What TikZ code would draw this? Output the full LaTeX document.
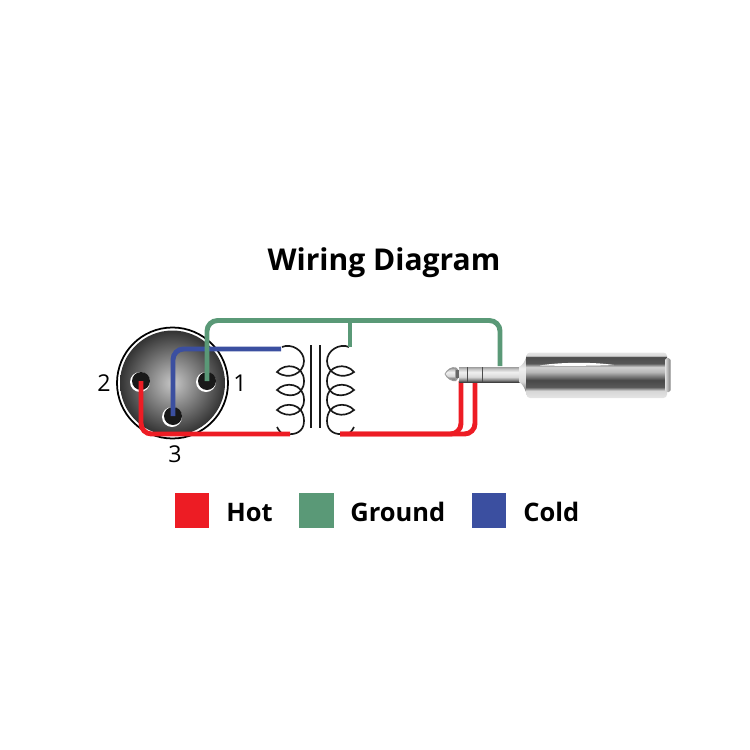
\documentclass[tikz,border=0pt]{standalone}
\usepackage{fontspec}
\setmainfont{Open Sans}
\definecolor{hotred}{HTML}{ED1C24}
\definecolor{gndgreen}{HTML}{5A9977}
\definecolor{coldblue}{HTML}{3B4FA0}
\pgfdeclareverticalshading{barrelshade}{100bp}{
    color(0bp)=(black!10); color(25bp)=(black!10); color(33bp)=(black!16); color(37bp)=(black!65);
    color(44.6bp)=(black!72); color(53.6bp)=(black!28); color(59bp)=(black!18); color(63bp)=(black!66);
    color(70bp)=(black!70); color(71.5bp)=(black!15); color(75bp)=(black!10); color(100bp)=(black!10)}
\pgfdeclareverticalshading{plugshade}{100bp}{
    color(0bp)=(black!75); color(25bp)=(black!75); color(31bp)=(black!50); color(42bp)=(black!15);
    color(58bp)=(black!6); color(68bp)=(black!22); color(75bp)=(black!38); color(100bp)=(black!38)}
\tikzset{
    wire/.style={line width=2.8pt, rounded corners=6pt},
    keybox/.style={minimum size=19.5pt, inner sep=0pt, draw=none},
    keytext/.style={font=\bfseries\fontsize{14.5}{16}\selectfont, anchor=base west, inner sep=0pt},
    pinlabel/.style={font=\fontsize{13.2}{15}\selectfont, inner sep=0pt},
    coilline/.style={line width=0.95pt, black!90}
}
\newcommand{\coilpath}{
    \draw[coilline] (5,0) .. controls (14,-4) and (27,3) .. (27,14)
        .. controls (27,26) and (12,34) .. (0,25)
        .. controls (8,15) and (27,18) .. (27,34)
        .. controls (27,50) and (10,52) .. (0,43)
        .. controls (8,34) and (27,36) .. (27,53)
        .. controls (27,68) and (10,72) .. (0,63)
        .. controls (8,54) and (27,56) .. (27,74)
        .. controls (27,85) and (18,88) .. (10,87);
    \draw[coilline] (0,80) .. controls (2,84) and (4,86) .. (7,88);
}
\begin{document}
\begin{tikzpicture}[x=0.02cm, y=-0.02cm]
    \useasboundingbox (0,0) rectangle (750,750);

    \node[font=\bfseries\fontsize{17.1}{20}\selectfont, anchor=base, inner sep=0pt] (title) at (384,270) {Wiring Diagram};

    % xlr connector
    \draw[line width=1pt] (172.5,383) circle (55.5);
    \shade[inner color=black!22, outer color=black!80] (172.5,383) circle (52.5);
    \foreach \name/\x/\y in {pinone/207/381, pintwo/141/381, pinthree/173/416} {
        \fill[white] (\x-1,\y+1) circle (10);
        \fill[black!90] (\x,\y) circle (9);
        \coordinate (\name) at (\x,\y);
    }
    \node[pinlabel] (labelone) at (240,383) {1};
    \node[pinlabel] (labeltwo) at (104,383) {2};
    \node[pinlabel] (labelthree) at (175,454) {3};

    % transformer
    \begin{scope}[shift={(277,347)}]
        \coilpath
    \end{scope}
    \begin{scope}[shift={(354,347)}, xscale=-1]
        \coilpath
    \end{scope}
    \foreach \x in {311, 320} {
        \draw[line width=1pt, black!90] (\x,345) -- (\x,428);
    }

    % wire ends
    \coordinate (coldend) at (281,349);
    \coordinate (hotleft) at (290,434);
    \coordinate (hotright) at (340,434);
    \coordinate (groundtap) at (350,347);
    \coordinate (groundtop) at (350,320.5);
    \coordinate (groundend) at (500,366);
    \coordinate (ringend) at (461,381);
    \coordinate (tipend) at (475,381);

    \draw[wire, hotred] (ringend) |- (hotright);
    \draw[wire, hotred] (tipend) |- (hotright);
    \draw[wire, hotred] (pintwo) |- (hotleft);
    \draw[wire, coldblue] (pinthree) |- (coldend);
    \draw[wire, gndgreen] (pinone) |- (groundtop) -| (groundend);
    \draw[line width=2.8pt, gndgreen] (groundtop) -- (groundtap);

    % jack plug
    \fill[black!40] (444.5,374) .. controls (447,369) and (452,366) .. (456,367.5) -- (458,369.5) -- (458,378.5) -- (456,381) .. controls (452,382) and (447,379) .. (444.5,374) -- cycle;
    \shade[shading=plugshade] (445.5,374) .. controls (448,370) and (452,368) .. (455,369) -- (455,379.5) .. controls (452,380) and (448,378) .. (445.5,374) -- cycle;
    \fill[black!60] (456,370) rectangle (459,378);
    \shade[shading=plugshade] (459,367) rectangle (483,382);
    \shade[shading=plugshade] (483,367) rectangle (520,382);
    \foreach \x in {467.5, 482.5} {
        \draw[line width=0.7pt, black!70] (\x,367) -- (\x,382);
    }
    \shade[shading=plugshade] (519,367) .. controls (523,365) and (525,361) .. (527,355) -- (527,395) .. controls (525,389) and (523,384) .. (519,382) -- cycle;
    \shade[shading=barrelshade, rounded corners=2pt] (526.5,352.5) rectangle (667,398);
    \fill[white] (540,365.5) .. controls (560,362) and (595,362) .. (614,365) .. controls (595,366) and (560,366) .. (540,365.5) -- cycle;
    \shade[left color=black!12, right color=black!50, rounded corners=1pt] (665,358) rectangle (670.5,392);

    % legend
    \foreach \name/\x/\col/\lx/\lab in {hot/192/hotred/226/Hot, ground/316.5/gndgreen/350/Ground, cold/489/coldblue/523/Cold} {
        \node[keybox, fill=\col] (key\name) at (\x,510.5) {};
        \node[keytext] (text\name) at (\lx,521.5) {\lab};
    }
\end{tikzpicture}
\end{document}
